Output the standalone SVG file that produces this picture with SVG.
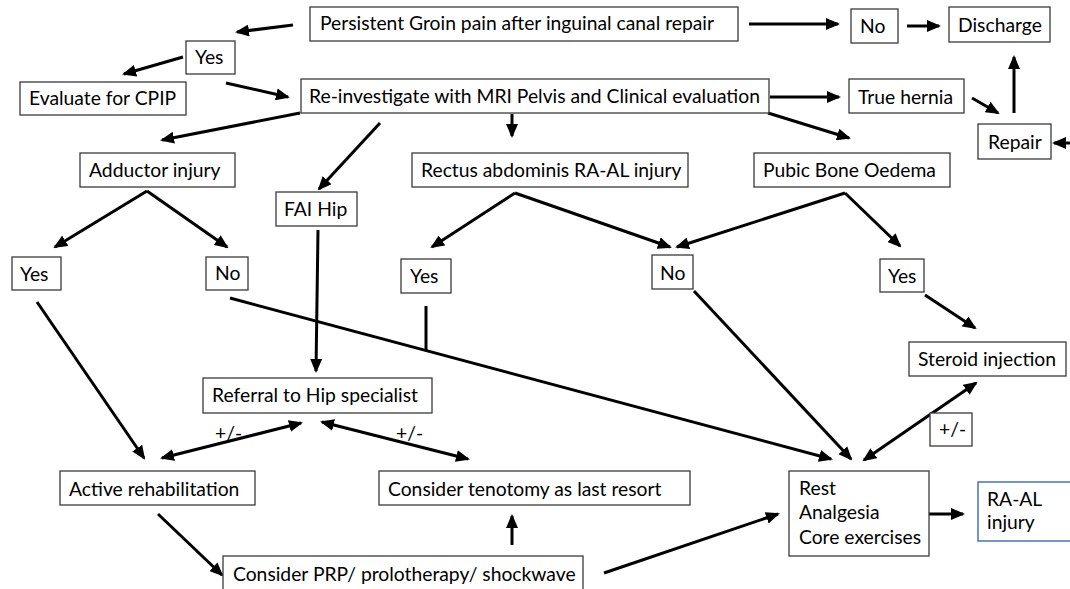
<svg xmlns="http://www.w3.org/2000/svg" width="1070" height="589" viewBox="0 0 1070 589">
<defs>
<marker id="ah" viewBox="0 0 14 12" markerWidth="14" markerHeight="12" refX="12" refY="6" orient="auto-start-reverse" markerUnits="userSpaceOnUse">
<path d="M0,0 L14,6 L0,12 Z" fill="#000"/>
</marker>
<style>
.b{fill:#fff;stroke:#3a3a3a;stroke-width:1.3}
.t{font-family:Lato,"Liberation Sans",sans-serif;font-size:19.3px;fill:#000}
.c line,.c path{stroke:#000;stroke-width:3;fill:none}
.a{marker-end:url(#ah)}
.d{marker-start:url(#ah);marker-end:url(#ah)}
</style>
</defs>
<rect width="1070" height="589" fill="#fff"/>

<g class="c">
<line class="a" x1="293" y1="25" x2="237" y2="32"/>
<line class="a" x1="183" y1="57" x2="124" y2="74"/>
<line class="a" x1="226" y1="83" x2="288" y2="97"/>
<line class="a" x1="749" y1="24" x2="838" y2="24"/>
<line class="a" x1="907" y1="26" x2="939" y2="26"/>
<line class="a" x1="770" y1="97" x2="839" y2="97"/>
<line class="a" x1="972" y1="98" x2="998" y2="113"/>
<line class="a" x1="1014" y1="113" x2="1014" y2="57"/>
<line class="a" x1="1072" y1="143" x2="1054" y2="143"/>
<line class="a" x1="300" y1="113" x2="162" y2="140"/>
<line class="a" x1="380" y1="123" x2="319" y2="189"/>
<line class="a" x1="512" y1="114" x2="512" y2="136"/>
<line class="a" x1="768" y1="113" x2="849" y2="138"/>
<line class="a" x1="147" y1="191" x2="55" y2="247"/>
<line class="a" x1="147" y1="191" x2="227" y2="247"/>
<line class="a" x1="515" y1="193" x2="432" y2="247"/>
<line class="a" x1="515" y1="193" x2="670" y2="247"/>
<line class="a" x1="845" y1="193" x2="677" y2="247"/>
<line class="a" x1="845" y1="193" x2="900" y2="246"/>
<line class="a" x1="37" y1="302" x2="144" y2="458"/>
<line class="a" x1="230" y1="298" x2="831" y2="459"/>
<line x1="426" y1="306" x2="426" y2="351"/>
<line class="a" x1="694" y1="291" x2="851" y2="459"/>
<line class="a" x1="925" y1="295" x2="975" y2="328"/>
<line class="d" x1="864" y1="460" x2="976" y2="383"/>
<line class="a" x1="318" y1="230" x2="316" y2="371"/>
<line class="d" x1="162" y1="458" x2="301" y2="423"/>
<line class="d" x1="322" y1="422" x2="468" y2="459"/>
<line class="a" x1="158" y1="514" x2="222" y2="575"/>
<line class="a" x1="512" y1="545" x2="512" y2="516"/>
<line class="a" x1="604" y1="573" x2="778" y2="514"/>
<line class="a" x1="929" y1="514" x2="963" y2="514"/>
</g>

<g id="persistent"><rect class="b" x="310" y="7" width="428" height="34"/><text class="t" x="320" y="30">Persistent Groin pain after inguinal canal repair</text></g>
<g id="yes-top"><rect class="b" x="186" y="41" width="49" height="33"/><text class="t" x="195" y="64">Yes</text></g>
<g id="evaluate"><rect class="b" x="20" y="82" width="166" height="33"/><text class="t" x="29" y="105">Evaluate for CPIP</text></g>
<g id="reinvestigate"><rect class="b" x="301" y="79" width="468" height="34"/><text class="t" x="309" y="103">Re-investigate with MRI Pelvis and Clinical evaluation</text></g>
<g id="no-top"><rect class="b" x="851" y="9" width="47" height="34"/><text class="t" x="860" y="33">No</text></g>
<g id="discharge"><rect class="b" x="949" y="7" width="101" height="35"/><text class="t" x="958" y="32">Discharge</text></g>
<g id="true-hernia"><rect class="b" x="849" y="79" width="115" height="34"/><text class="t" x="858" y="104">True hernia</text></g>
<g id="repair"><rect class="b" x="978" y="124" width="73" height="35"/><text class="t" x="988" y="149">Repair</text></g>
<g id="adductor"><rect class="b" x="80" y="153" width="155" height="34"/><text class="t" x="89" y="177">Adductor injury</text></g>
<g id="fai"><rect class="b" x="276" y="192" width="81" height="34"/><text class="t" x="284" y="216">FAI Hip</text></g>
<g id="rectus"><rect class="b" x="412" y="153" width="276" height="34"/><text class="t" x="421" y="177">Rectus abdominis RA-AL injury</text></g>
<g id="pubic"><rect class="b" x="754" y="153" width="196" height="34"/><text class="t" x="763" y="177">Pubic Bone Oedema</text></g>
<g id="add-yes"><rect class="b" x="12" y="257" width="49" height="33"/><text class="t" x="20" y="281">Yes</text></g>
<g id="add-no"><rect class="b" x="206" y="257" width="42" height="33"/><text class="t" x="215" y="280">No</text></g>
<g id="rect-yes"><rect class="b" x="401" y="259" width="50" height="34"/><text class="t" x="410" y="283">Yes</text></g>
<g id="rect-no"><rect class="b" x="652" y="255" width="41" height="34"/><text class="t" x="660" y="280">No</text></g>
<g id="pub-yes"><rect class="b" x="880" y="259" width="44" height="33"/><text class="t" x="888" y="283">Yes</text></g>
<g id="steroid"><rect class="b" x="909" y="342" width="157" height="34"/><text class="t" x="918" y="366">Steroid injection</text></g>
<g id="referral"><rect class="b" x="203" y="378" width="229" height="35"/><text class="t" x="212" y="402">Referral to Hip specialist</text></g>
<g id="pm-box"><rect class="b" x="930" y="413" width="42" height="33"/><text class="t" x="939" y="436">+/-</text></g>
<g id="pm-labels"><text class="t" x="215" y="440">+/-</text><text class="t" x="396" y="440">+/-</text></g>
<g id="active"><rect class="b" x="60" y="471" width="195" height="34"/><text class="t" x="69" y="496">Active rehabilitation</text></g>
<g id="tenotomy"><rect class="b" x="379" y="471" width="311" height="34"/><text class="t" x="388" y="496">Consider tenotomy as last resort</text></g>
<g id="prp"><rect class="b" x="223" y="556" width="360" height="40"/><text class="t" x="233" y="581">Consider PRP/ prolotherapy/ shockwave</text></g>
<g id="rest"><rect class="b" x="789" y="471" width="140" height="85"/><text class="t" x="799" y="495">Rest</text><text class="t" x="799" y="519">Analgesia</text><text class="t" x="799" y="544">Core exercises</text></g>
<g id="raal"><rect x="978" y="482" width="100" height="59" fill="#fff" stroke="#4472c4" stroke-width="1.5"/><text class="t" x="987" y="506">RA-AL</text><text class="t" x="987" y="529">injury</text></g>
</svg>
